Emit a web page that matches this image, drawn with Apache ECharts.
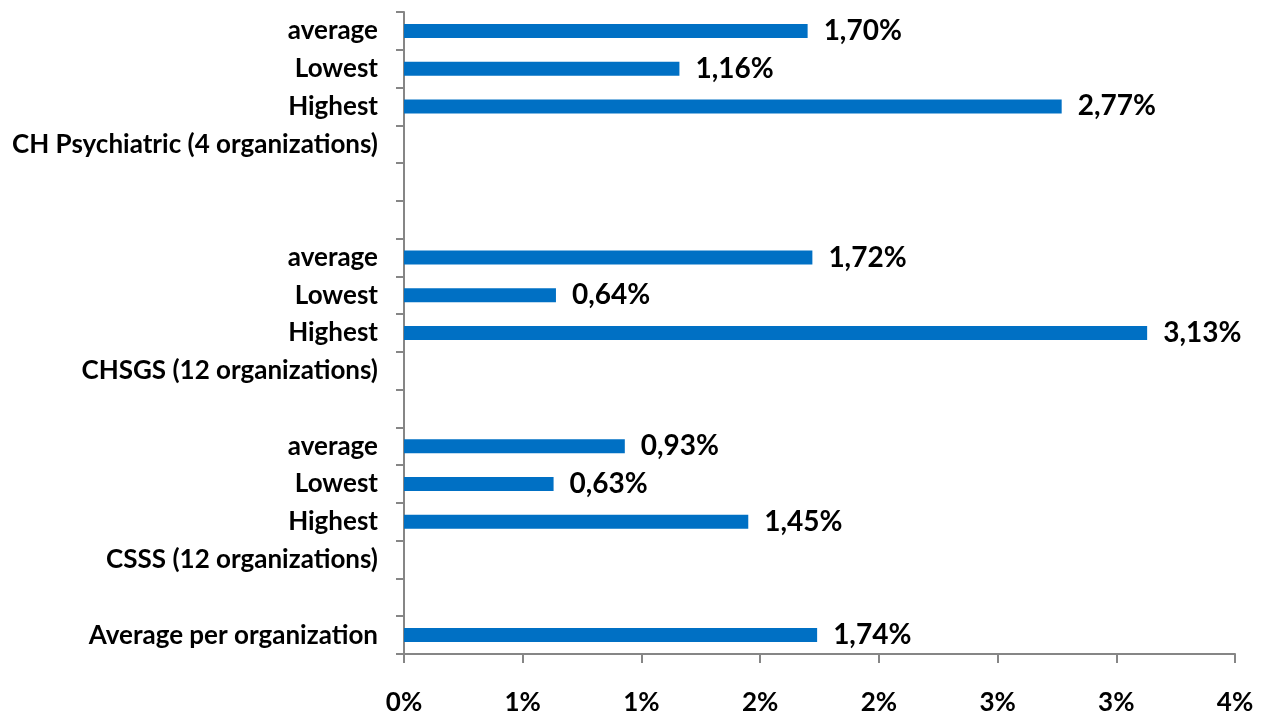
<!DOCTYPE html>
<html><head><meta charset="utf-8">
<script src="https://cdn.jsdelivr.net/npm/echarts@6/dist/echarts.min.js"></script>
<style>html,body{margin:0;padding:0;background:#fff}#c{width:1261px;height:718px}</style>
</head><body><div id="c"></div>
<script>
// categories from bottom to top
const categories = ["Average per organization", "", "CSSS (12 organizations)", "Highest", "Lowest", "average", "", "CHSGS (12 organizations)", "Highest", "Lowest", "average", "", "", "CH Psychiatric (4 organizations)", "Highest", "Lowest", "average"];
const values = [1.74, null, null, 1.45, 0.63, 0.93, null, null, 3.13, 0.64, 1.72, null, null, null, 2.77, 1.16, 1.70];
const xTicks = [0, 0.5, 1, 1.5, 2, 2.5, 3, 3.5];

const font = 'Lato, "Open Sans", sans-serif';
const chart = echarts.init(document.getElementById('c'));
chart.setOption({
  animation: false,
  grid: {left: 404, right: 26, top: 12, bottom: 64, containLabel: false},
  xAxis: {
    type: 'value', min: xTicks[0], max: xTicks[xTicks.length - 1], interval: xTicks[1] - xTicks[0],
    axisLine: {show: true, lineStyle: {color: '#868686', width: 2}},
    axisTick: {show: true, length: 9, lineStyle: {color: '#868686', width: 2}},
    splitLine: {show: false},
    axisLabel: {margin: 36, color: '#000', fontFamily: font, fontWeight: 'bold', fontSize: 26,
      formatter: v => Math.round(v) + '%'}
  },
  yAxis: {
    type: 'category', data: categories,
    axisLine: {show: true, lineStyle: {color: '#868686', width: 2}},
    axisTick: {show: true, length: 8, lineStyle: {color: '#868686', width: 2}},
    axisLabel: {margin: 26, color: '#000', fontFamily: font, fontWeight: 'bold', fontSize: 26, interval: 0}
  },
  series: [{
    type: 'bar', data: values, barWidth: 14,
    itemStyle: {color: '#0070C4'},
    label: {show: true, position: 'right', distance: 16, color: '#000', fontFamily: font, fontWeight: 'bold', fontSize: 28,
      formatter: p => p.value == null ? '' : p.value.toFixed(2).replace('.', ',') + '%'}
  }]
});
</script></body></html>
